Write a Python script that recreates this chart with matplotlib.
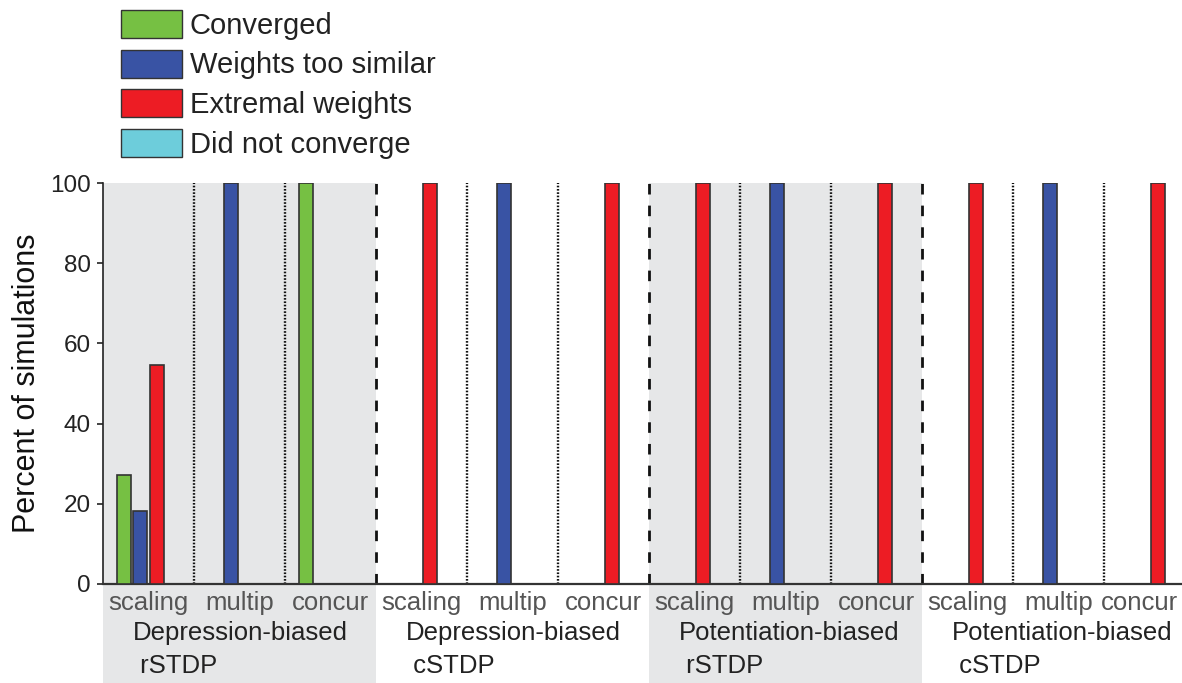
import numpy as np
import matplotlib.pyplot as plt
from matplotlib.patches import Patch

plt.rcParams['font.family'] = ['Liberation Sans', 'DejaVu Sans']

# Datos: porcentaje de simulaciones por resultado
grupos = ['Depression-biased\n rSTDP', 'Depression-biased\n cSTDP',
          'Potentiation-biased\n rSTDP', 'Potentiation-biased\n cSTDP']
subgrupos = ['scaling', 'multip', 'concur']
resultados = ['Converged', 'Weights too similar', 'Extremal weights', 'Did not converge']
colores = ['#76c043', '#3953a4', '#ed1c24', '#6dcddb']

# un valor por (grupo, subgrupo)
converged = [27.3, 0, 100, 0, 0, 0, 0, 0, 0, 0, 0, 0]
similar = [18.2, 100, 0, 0, 100, 0, 0, 100, 0, 0, 100, 0]
extremal = [54.5, 0, 0, 100, 0, 100, 100, 0, 100, 100, 0, 100]
no_conv = [0, 0, 0, 0, 0, 0, 0, 0, 0, 0, 0, 0]
valores = [converged, similar, extremal, no_conv]

W, H = 1182, 683
fig = plt.figure(figsize=(W / 100, H / 100), dpi=100)
x0, x1 = 103, 103 + 12 * 91
y0, y1 = 584, 183
ax = fig.add_axes([x0 / W, 1 - y0 / H, (x1 - x0) / W, (y0 - y1) / H])
ax.set_facecolor('none')

n = len(subgrupos) * len(grupos)
centros = np.arange(n) + 0.5
offsets = (np.arange(4) - 1.5) * 0.182
for k in range(4):
    ax.bar(centros + offsets[k], valores[k], width=0.155, color=colores[k],
           edgecolor='#333333', linewidth=1.2, zorder=3)

# fondos grises de los grupos 1 y 3
yb = -(H - y0) / (y0 - y1)
for g in [0, 2]:
    ax.axvspan(g * 3, g * 3 + 3, ymin=yb, ymax=1, color='#e6e7e8',
               lw=0, clip_on=False, zorder=0)

# separadores
for i in range(1, n):
    if i % 3 == 0:
        ax.plot([i, i], [0, 100], color='#111111', lw=2, ls=(0, (3.8, 4)), zorder=2)
    else:
        ax.plot([i, i], [0, 100], color='#111111', lw=1.7, ls=(0, (0.7, 0.7)), zorder=2)

ax.set_xlim(0, n)
ax.set_ylim(0, 100)
ax.set_yticks([0, 20, 40, 60, 80, 100])
ax.tick_params(axis='y', labelsize=17.5, length=4, width=1.2, colors='#222222', pad=5)
ax.set_xticks([])
for s in ['top', 'right']:
    ax.spines[s].set_visible(False)
ax.spines['left'].set_color('#222222')
ax.spines['left'].set_linewidth(1.2)
ax.spines['bottom'].set_color('#333333')
ax.spines['bottom'].set_linewidth(1.6)
ax.set_ylabel('Percent of simulations', fontsize=22, color='#111111')
ax.yaxis.set_label_coords(-0.056, 0.5)

# etiquetas de subgrupo (la última se corre para que quepa)
tr = ax.get_xaxis_transform()
for i, c in enumerate(centros):
    etiqueta = subgrupos[i % 3]
    xc = c - 0.11 if i == n - 1 else c
    ax.text(xc, -0.065, etiqueta, transform=tr, ha='center', va='baseline',
            fontsize=18.5, color='#555555')

# nombre del grupo en dos líneas; va='baseline' alinea la última línea
for g, nombre in enumerate(grupos):
    ax.text(g * 3 + 0.33, -0.222, nombre, transform=tr, ha='left', va='baseline',
            fontsize=18.5, color='#222222', linespacing=1.5)

handles = [Patch(facecolor=c, edgecolor='#333333', linewidth=1) for c in colores]
fig.legend(handles, resultados, loc='upper left', bbox_to_anchor=(121 / W, 1 - 10 / H),
           frameon=False, fontsize=21, handlelength=2.09, handleheight=1.1,
           labelspacing=0.33, handletextpad=0.27, borderpad=0, borderaxespad=0,
           labelcolor='#222222')

fig.savefig('out.png', dpi=100)
